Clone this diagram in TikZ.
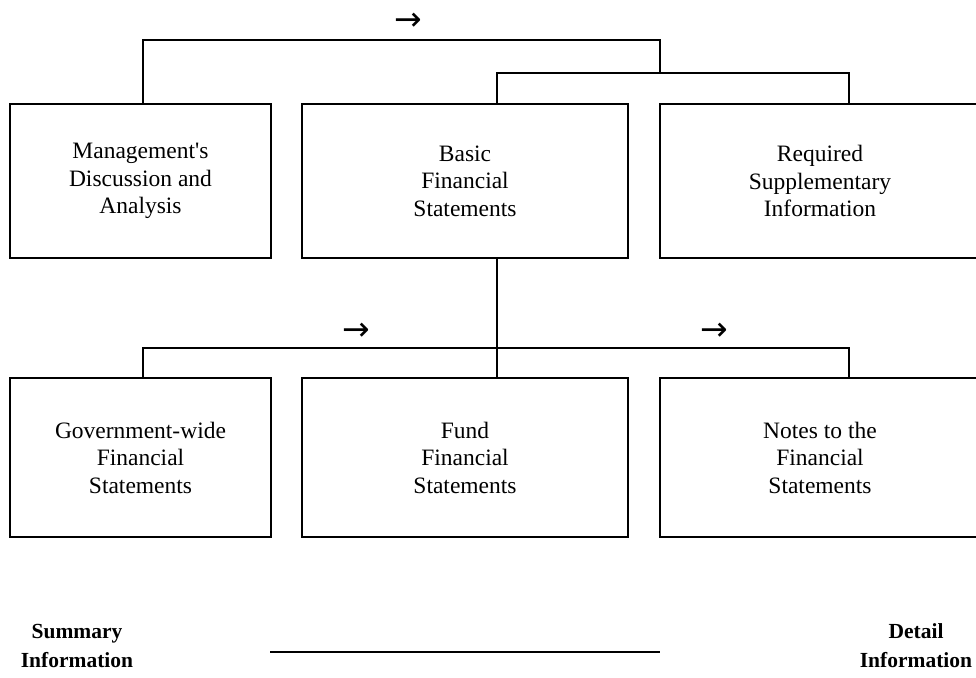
\documentclass[tikz,border=0pt]{standalone}
\usepackage{fontspec}
\setmainfont{Liberation Serif}
\newfontfamily\symfont{DejaVu Sans}

\tikzset{
  box/.style={draw, line width=1.1pt, inner sep=0pt, align=center,
    minimum height=154pt, font=\fontsize{23.5}{27.5}\selectfont},
  link/.style={line width=1.2pt},
  heavy/.style={line width=2.2pt},
  pointer/.style={inner sep=0pt, font=\symfont\fontsize{33}{33}\selectfont},
  endlabel/.style={inner sep=0pt, align=center, font=\bfseries\fontsize{21.5}{29}\selectfont}
}

\begin{document}
\begin{tikzpicture}[x=1pt,y=-1pt]
	\clip (0,0) rectangle (976,677);
	
	% top row
	\node[box, minimum width=261pt] (mda) at (140.5,181)
		{Management\textquotesingle s\\Discussion and\\Analysis};
	\node[box, minimum width=326pt] (bfs) at (465,181)
		{Basic\\Financial\\Statements};
	\node[box, minimum width=320pt] (rsi) at (820,181)
		{Required\\Supplementary\\Information};
	
	% bottom row
	\node[box, minimum width=261pt, minimum height=159pt] (gov) at (140.5,457.5)
		{Government-wide\\Financial\\Statements};
	\node[box, minimum width=326pt, minimum height=159pt] (fund) at (465,457.5)
		{Fund\\Financial\\Statements};
	\node[box, minimum width=320pt, minimum height=159pt] (notes) at (820,457.5)
		{Notes to the\\Financial\\Statements};
	
	\coordinate (tl) at (143,40);
	\coordinate (top) at (660,40);
	\coordinate (hub) at (660,73);
	\coordinate (jt) at (497,73);
	\coordinate (jr) at (849,73);
	\coordinate (jl) at (143,348);
	\coordinate (jb) at (849,348);
	
	\draw[link] (mda.north -| tl) -- (tl) -- (top) -- (hub);
	\draw[heavy] (bfs.north -| jt) -- (jt) -- (jr) -- (rsi.north -| jr);
	\draw[link] (bfs.south -| jt) -- (fund.north -| jt);
	\draw[link] (gov.north -| jl) -- (jl) -- (jb) -- (notes.north -| jb);
	
	% direction marks
	\node[pointer] (p1) at (408,22) {→};
	\node[pointer] (p2) at (356,332) {→};
	\node[pointer] (p3) at (714,332) {→};
	
	% summary / detail scale
	\node[endlabel] (summ) at (77,646) {Summary\\Information};
	\node[endlabel] (detl) at (916,646) {Detail\\Information};
	\coordinate (sl) at (270,652);
	\coordinate (sr) at (660,652);
	\draw[link] (sl) -- (sr);
\end{tikzpicture}
\end{document}
